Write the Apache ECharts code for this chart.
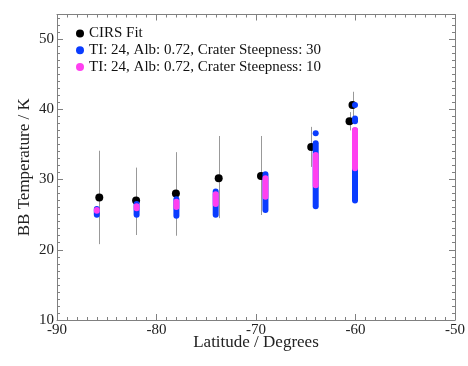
<!DOCTYPE html>
<html>
<head>
<meta charset="utf-8">
<script src="https://cdn.jsdelivr.net/npm/echarts@6/dist/echarts.min.js"></script>
<style>
  html, body { margin: 0; padding: 0; background: #fff; }
  #chart { width: 468px; height: 366px; }
</style>
</head>
<body>
<div id="chart"></div>
<script>
// axis ranges
const latRange = [-90, -50]
const tempRange = [10, 53.5]

// CIRS fit: [latitude, temperature]
const cirsFit = [
  [-85.75, 27.45], [-82.05, 27.0], [-78.05, 28.0], [-73.75, 30.2],
  [-69.5, 30.5], [-64.45, 34.65], [-60.6, 38.3], [-60.3, 40.6]
]
// CIRS fit error bars: [latitude, low, high]
const cirsErr = [
  [-85.75, 20.8, 34.1], [-82.05, 22.1, 31.7], [-78.05, 22.0, 33.9],
  [-73.75, 24.5, 36.2], [-69.5, 24.95, 36.2], [-64.45, 31.8, 37.5],
  [-60.6, 37.0, 39.6], [-60.3, 38.7, 42.5]
]
// model runs, dense columns of points: [latitude, lowest, highest]
const steep30 = [
  [-86.0, 25.0, 25.8], [-82.0, 25.0, 26.5], [-78.0, 24.85, 27.2],
  [-74.05, 25.0, 28.3], [-69.05, 25.65, 30.75],
  [-64.0, 26.2, 35.15], [-64.0, 36.6, 36.6],
  [-60.05, 27.0, 30.4], [-60.05, 30.4, 37.0],
  [-60.05, 38.3, 38.7], [-60.05, 40.6, 40.6]
]
const steep10 = [
  [-86.0, 25.55, 25.65], [-82.0, 25.9, 26.2], [-78.0, 26.1, 26.85],
  [-74.05, 26.5, 27.9], [-69.05, 27.55, 30.2], [-64.0, 29.2, 33.5],
  [-60.05, 31.6, 37.05]
]

const names = ['CIRS Fit', 'TI: 24, Alb: 0.72, Crater Steepness: 30', 'TI: 24, Alb: 0.72, Crater Steepness: 10']
const font = 'Liberation Serif'
const axisGray = '#808080'

// vertical error bar
function renderErr(params, api) {
  const lo = api.coord([api.value(0), api.value(1)])
  const hi = api.coord([api.value(0), api.value(2)])
  const x = Math.round(lo[0]) + 0.5
  return {
    type: 'line',
    shape: { x1: x, y1: lo[1], x2: x, y2: hi[1] },
    style: { stroke: '#999', lineWidth: 1 }
  }
}

// column of overlapping dots -> capsule
function renderColumn(params, api) {
  const lo = api.coord([api.value(0), api.value(1)])
  const hi = api.coord([api.value(0), api.value(2)])
  const w = 6
  return {
    type: 'rect',
    shape: { x: lo[0] - w / 2, y: hi[1] - w / 2, width: w, height: lo[1] - hi[1] + w, r: w / 2 },
    style: { fill: api.visual('color') }
  }
}

function xAx(pos, labels) {
  return {
    type: 'value', position: pos, min: latRange[0], max: latRange[1], interval: 10,
    axisLine: { show: true, onZero: false, lineStyle: { color: axisGray } },
    axisTick: { show: true, inside: true, length: 6, lineStyle: { color: axisGray } },
    minorTick: { show: true, splitNumber: 10, length: 3, lineStyle: { color: axisGray } },
    axisLabel: { show: labels, margin: 3, fontFamily: font, fontSize: 15, color: '#222' },
    splitLine: { show: false }, minorSplitLine: { show: false },
    name: labels ? 'Latitude / Degrees' : '', nameLocation: 'middle', nameGap: 14,
    nameMoveOverlap: false,
    nameTextStyle: { fontFamily: font, fontSize: 17, color: '#222' }
  }
}

function yAx(pos, step, len, labels) {
  return {
    type: 'value', position: pos, min: tempRange[0], max: tempRange[1], interval: step,
    axisLine: { show: step === 10, onZero: false, lineStyle: { color: axisGray } },
    axisTick: { show: true, inside: true, length: len, lineStyle: { color: axisGray } },
    axisLabel: {
      show: labels, margin: 3, fontFamily: font, fontSize: 15, color: '#222',
      formatter: v => (v % 10 === 0 ? String(v) : '')
    },
    splitLine: { show: false },
    name: labels ? 'BB Temperature / K' : '', nameLocation: 'middle', nameGap: 24,
    nameMoveOverlap: false,
    nameTextStyle: { fontFamily: font, fontSize: 17, color: '#222' }
  }
}

const chart = echarts.init(document.getElementById('chart'))
chart.setOption({
  animation: false,
  backgroundColor: '#fff',
  grid: { left: 57, right: 13, top: 14.5, bottom: 46, containLabel: false },
  legend: {
    orient: 'vertical', left: 76, top: 26, padding: 0,
    itemWidth: 8, itemHeight: 8, itemGap: 1.7, selectedMode: false,
    textStyle: { fontFamily: font, fontSize: 15, lineHeight: 15, color: '#111' },
    data: names.map(n => ({ name: n, icon: 'circle' }))
  },
  xAxis: [xAx('bottom', true), xAx('top', false)],
  yAxis: [yAx('left', 10, 6, true), yAx('right', 10, 6, false), yAx('left', 1, 3, false), yAx('right', 1, 3, false)],
  series: [
    {
      name: 'err', type: 'custom', renderItem: renderErr, data: cirsErr,
      encode: { x: 0, y: [1, 2] }, z: 1
    },
    {
      name: names[0], type: 'scatter', data: cirsFit, symbolSize: 8,
      itemStyle: { color: '#000', opacity: 1 }, z: 2
    },
    {
      name: names[1], type: 'custom', renderItem: renderColumn, data: steep30,
      encode: { x: 0, y: [1, 2] }, itemStyle: { color: '#0a3cff' }, z: 3
    },
    {
      name: names[2], type: 'custom', renderItem: renderColumn, data: steep10,
      encode: { x: 0, y: [1, 2] }, itemStyle: { color: '#ff40f0' }, z: 4
    }
  ]
})
</script>
</body>
</html>
